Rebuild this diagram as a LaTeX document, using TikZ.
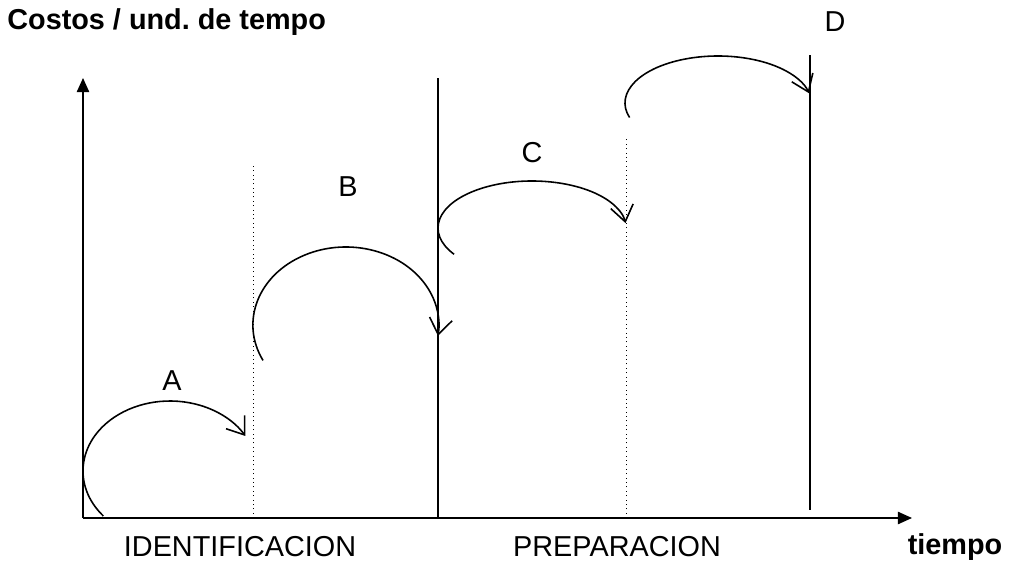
\documentclass[tikz,border=0pt]{standalone}
\usepackage{fontspec}
\setmainfont{Liberation Sans}
\usetikzlibrary{arrows.meta, positioning}
\frenchspacing

\tikzset{
    eje/.style={line width=0.8pt, -{Triangle[length=8pt,width=7pt]}},
    fase/.style={line width=0.8pt},
    limite/.style={line width=0.5pt, dotted},
    salto/.style={line width=0.9pt, -{Straight Barb[length=9pt,width=13pt]}},
    etiq/.style={font=\fontsize{16.4}{19}\selectfont, inner sep=0pt},
}

\begin{document}
\begin{tikzpicture}[x=0.02cm,y=0.02cm]
    \useasboundingbox (0,0) rectangle (1021,561);
    % ejes
    \coordinate (O) at (83,43);
    \coordinate (Ytop) at (83,483);
    \coordinate (Xend) at (912,43);
    \draw[eje] (O) -- (Ytop);
    \draw[eje] (O) -- (Xend);
    % divisiones
    \coordinate (d1a) at (253,43);  \coordinate (d1b) at (253,398);
    \coordinate (s1a) at (438,43);  \coordinate (s1b) at (438,483);
    \coordinate (d2a) at (626,43);  \coordinate (d2b) at (626,424);
    \coordinate (s2a) at (810,51);  \coordinate (s2b) at (810,506);
    \draw[limite] (d1a) -- (d1b);
    \draw[fase] (s1a) -- (s1b);
    \draw[limite] (d2a) -- (d2b);
    \draw[fase] (s2a) -- (s2b);
    % saltos (centros de las elipses)
    \coordinate (cA) at (170,90);
    \coordinate (cB) at (345,236);
    \coordinate (cC) at (532,333);
    \coordinate (cD) at (718,458);
    \draw[salto] (cA) ++(220:87 and 70) arc[start angle=220, end angle=30, x radius=87, y radius=70];
    \draw[salto] (cB) ++(207:92 and 78) arc[start angle=207, end angle=-8, x radius=93, y radius=78];
    \draw[salto] (cC) ++(214:94 and 47) arc[start angle=214, end angle=6, x radius=94, y radius=47];
    \draw[salto] (cD) ++(198:93 and 47) arc[start angle=198, end angle=12, x radius=93, y radius=47];
    % textos
    \node[etiq] (A) at (172,180) {A};
    \node[etiq] (B) at (348,374) {B};
    \node[etiq] (C) at (532,408) {C};
    \node[etiq] (D) at (835,539) {D};
    \node[etiq, anchor=west, font=\fontsize{16.4}{19}\selectfont\bfseries] (titulo) at (7,539) {Costos / und. de tempo};
    \node[etiq] (ident) at (240,14) {IDENTIFICACION};
    \node[etiq] (prep) at (617,14) {PREPARACION};
    \node[etiq, font=\fontsize{16.4}{19}\selectfont\bfseries] (tiempo) at (955,14) {tiempo};
\end{tikzpicture}
\end{document}
